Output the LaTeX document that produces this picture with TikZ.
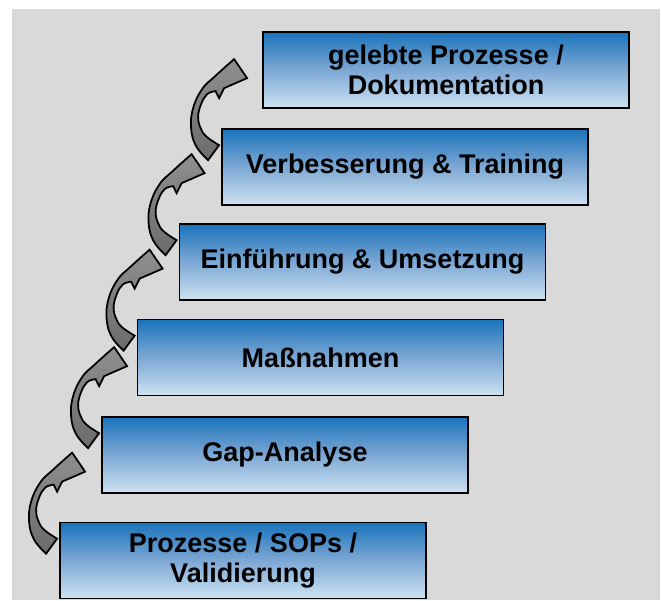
\documentclass[tikz,border=0pt]{standalone}
\usepackage{fontspec}
\setmainfont{Liberation Sans}
\definecolor{stufeoben}{RGB}{26,115,187}
\definecolor{stufemitte}{RGB}{125,168,212}
\definecolor{stufeunten}{RGB}{205,226,242}
\definecolor{hintergrund}{RGB}{217,217,217}
\begin{document}
\begin{tikzpicture}[x=0.025cm, y=-0.025cm,
		stufe/.style={draw=black, line width=1.2pt, rectangle,
			top color=stufeoben, bottom color=stufeunten, middle color=stufemitte,
			minimum width=9.15cm, minimum height=1.9cm, inner sep=0pt, align=center,
			font=\fontsize{19.2}{21.3}\selectfont\bfseries},
		pfeil/.style={draw=black, line width=1.25pt, top color=black!44, bottom color=black!58},
		pics/stufenpfeil/.style={code={
			\draw[pfeil] plot[smooth, tension=0.7] coordinates {(-13,32) (-25,18) (-30,0) (-28,-20) (-19,-39) (-6,-52) (13,-69)}
				-- (26,-50) -- (3,-40) -- (-2,-30)
				-- plot[smooth, tension=0.7] coordinates {(-5.5,-37) (-14,-34) (-20,-24) (-23,-11) (-20,1) (-14,9) (-2,17)}
				-- cycle;
		}}]
		\useasboundingbox (0,0) rectangle (662,600);
		% Hintergrund
		\fill[white] (0,0) rectangle (662,600);
		\fill[hintergrund] (12,9) rectangle (660,600);

		% Stufen
		\node[stufe] (s6) at (243,560.5) {Prozesse / SOPs /\\ Validierung};
		\node[stufe] (s5) at (285,455) {Gap-Analyse};
		\node[stufe] (s4) at (320.5,357.5) {Maßnahmen};
		\node[stufe] (s3) at (362.5,262) {Einführung \& Umsetzung};
		\node[stufe] (s2) at (405,167) {Verbesserung \& Training};
		\node[stufe] (s1) at (446,70) {gelebte Prozesse /\\ Dokumentation};

		% Pfeile
		\pic at (s6.north west) {stufenpfeil};
		\pic at (s5.north west) {stufenpfeil};
		\pic at (s4.north west) {stufenpfeil};
		\pic at (s3.north west) {stufenpfeil};
		\pic at (s2.north west) {stufenpfeil};
	\end{tikzpicture}
\end{document}
